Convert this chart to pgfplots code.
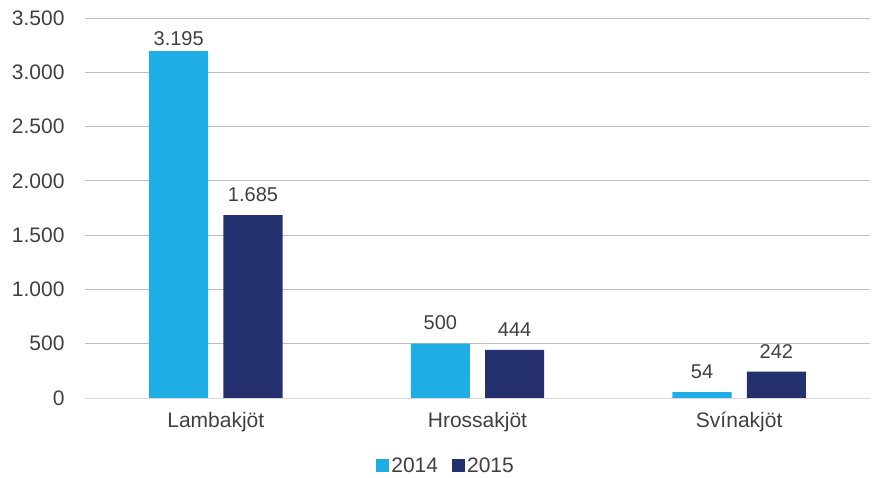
\documentclass[border=0pt]{standalone}
\usepackage{pgfplots}
\pgfplotsset{compat=1.18}
\usepackage{fontspec}
\setmainfont{Liberation Sans}
\definecolor{cA}{RGB}{30,173,228}
\definecolor{cB}{RGB}{37,49,110}
\definecolor{txt}{RGB}{64,64,64}
\definecolor{grid}{RGB}{217,217,217}
\begin{document}
\begin{tikzpicture}
\path[use as bounding box] (-85pt,-79pt) rectangle (793pt,398pt);
\begin{axis}[
  at={(0pt,0pt)}, anchor=south west,
  scale only axis, width=785pt, height=380pt,
  xmin=-0.5, xmax=2.5, ymin=0, ymax=3500,
  xtick={0,1,2}, xticklabels={Lambakjöt,Hrossakjöt,Svínakjöt},
  ytick={0,500,1000,1500,2000,2500,3000,3500},
  ybar, bar width=0.226,
  axis line style={draw=none},
  xmajorgrids=false, ymajorgrids, grid style={grid, line width=0.8pt},
  major tick length=0pt,
  tick label style={text=txt, font=\fontsize{21}{25}\selectfont},
  /pgf/number format/assume math mode=true,
  /pgf/number format/.cd, 1000 sep={.}, fixed, precision=0, /pgfplots/.cd,
  yticklabel style={xshift=-17pt},
  xticklabel style={yshift=-11pt},
  visualization depends on={y \as \rawy},
  nodes near coords,
  nodes near coords style={text=txt, font=\fontsize{20}{24}\selectfont, yshift={ifthenelse(\rawy>3000,2,10)}, /pgf/number format/assume math mode=true},
  legend style={at={(0.46,-0.178)}, anchor=center, draw=none, legend columns=2, font=\fontsize{21}{25}\selectfont, text=txt, /tikz/every even column/.append style={column sep=12pt}},
  legend image code/.code={\fill[#1] (0pt,-6.5pt) rectangle (13pt,6.5pt);},
  clip=false,
]
\addplot[fill=cA, draw=none, bar shift=-0.142] coordinates {(0,3195) (1,500) (2,54)};
\addplot[fill=cB, draw=none, bar shift=0.142] coordinates {(0,1685) (1,444) (2,242)};
\legend{2014,2015}
\draw[grid, line width=0.8pt] (rel axis cs:0,0) -- (rel axis cs:1,0);
\end{axis}
\end{tikzpicture}
\end{document}
